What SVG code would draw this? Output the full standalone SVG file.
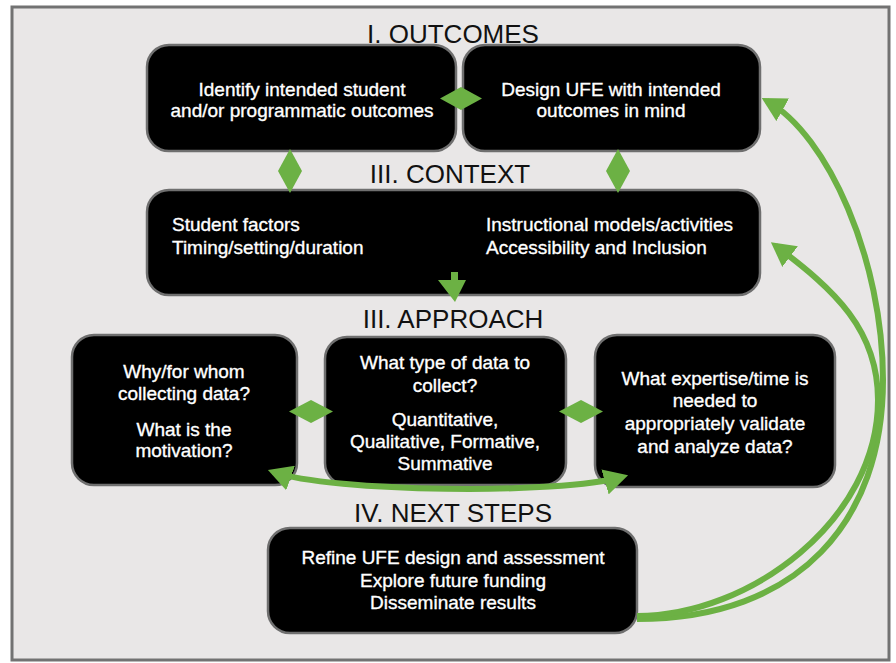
<svg xmlns="http://www.w3.org/2000/svg" width="896" height="663" viewBox="0 0 896 663">
<style>
.box{fill:#000;stroke:#6f6f6f;stroke-width:2.5}
.title{font-family:"Liberation Sans",Arial,sans-serif;font-size:26px;fill:#111;text-anchor:middle}
.t{font-family:"Liberation Sans",Arial,sans-serif;font-size:19px;fill:#fff;stroke:#fff;stroke-width:0.35;text-anchor:middle}
.tl{font-family:"Liberation Sans",Arial,sans-serif;font-size:19px;fill:#fff;stroke:#fff;stroke-width:0.35}
.g{fill:#6cb144}
.c{fill:none;stroke:#6cb144;stroke-width:6;stroke-linecap:butt}
</style>
<defs>
<marker id="ah" markerUnits="userSpaceOnUse" markerWidth="24" markerHeight="26" viewBox="0 0 24 26" refX="18" refY="13" orient="auto-start-reverse">
<path d="M0,0 L24,13 L0,26 z" fill="#6cb144"/>
</marker>
</defs>
<rect x="0" y="0" width="896" height="663" fill="#fff"/>
<rect x="12" y="7" width="877" height="653" fill="#e9e7e7" stroke="#727272" stroke-width="3"/>

<text class="title" x="453" y="43">I. OUTCOMES</text>
<text class="title" x="450" y="183">III. CONTEXT</text>
<text class="title" x="453" y="328">III. APPROACH</text>
<text class="title" x="453" y="522">IV. NEXT STEPS</text>

<g id="identify-outcomes">
<rect class="box" x="147" y="45" width="309" height="106" rx="22"/>
<text class="t" x="302" y="96">Identify intended student</text>
<text class="t" x="302" y="117">and/or programmatic outcomes</text>
</g>
<g id="design-ufe">
<rect class="box" x="463" y="45" width="297" height="106" rx="22"/>
<text class="t" x="611" y="96">Design UFE with intended</text>
<text class="t" x="611" y="117">outcomes in mind</text>
</g>
<g id="context">
<rect class="box" x="147" y="190" width="613" height="105" rx="22"/>
<text class="tl" x="172" y="231">Student factors</text>
<text class="tl" x="172" y="254">Timing/setting/duration</text>
<text class="tl" x="486" y="231">Instructional models/activities</text>
<text class="tl" x="486" y="254">Accessibility and Inclusion</text>
</g>
<g id="why-whom">
<rect class="box" x="72" y="335" width="225" height="150" rx="22"/>
<text class="t" x="184" y="378">Why/for whom</text>
<text class="t" x="184" y="400">collecting data?</text>
<text class="t" x="184" y="436">What is the</text>
<text class="t" x="184" y="457">motivation?</text>
</g>
<g id="data-type">
<rect class="box" x="325" y="337" width="241" height="148" rx="22"/>
<text class="t" x="445" y="369">What type of data to</text>
<text class="t" x="445" y="392">collect?</text>
<text class="t" x="445" y="426">Quantitative,</text>
<text class="t" x="445" y="448">Qualitative, Formative,</text>
<text class="t" x="445" y="470">Summative</text>
</g>
<g id="expertise">
<rect class="box" x="595" y="335" width="240" height="152" rx="22"/>
<text class="t" x="715" y="385">What expertise/time is</text>
<text class="t" x="715" y="407">needed to</text>
<text class="t" x="715" y="430">appropriately validate</text>
<text class="t" x="715" y="453">and analyze data?</text>
</g>
<g id="next-steps">
<rect class="box" x="268" y="528" width="369" height="105" rx="22"/>
<text class="t" x="453" y="564">Refine UFE design and assessment</text>
<text class="t" x="453" y="587">Explore future funding</text>
<text class="t" x="453" y="609">Disseminate results</text>
</g>

<g id="connectors">
<polygon class="g" points="440,98.5 461,87 482,98.5 461,110"/>
<polygon class="g" points="278,171 290,149 302,171 290,193"/>
<polygon class="g" points="606,171 618,149 630,171 618,193"/>
<polygon class="g" points="289,411.5 311,400 333,411.5 311,423"/>
<polygon class="g" points="559,411.5 581,400 603,411.5 581,423"/>
<path class="g" d="M451,272 H458 V280 H466 L455,302 L438,280 H451 Z"/>
<path class="c" d="M273.6,472 C330,492 560,495 622.3,476.9" marker-start="url(#ah)" marker-end="url(#ah)"/>
<path class="c" d="M637,619 C800,619 883,520 883,380 C883,260 828,135 767,101" marker-end="url(#ah)"/>
<path class="c" d="M637,616 C750,616 878,520 878,400 C878,330 835,290 775.7,245.8" marker-end="url(#ah)"/>
</g>
</svg>
